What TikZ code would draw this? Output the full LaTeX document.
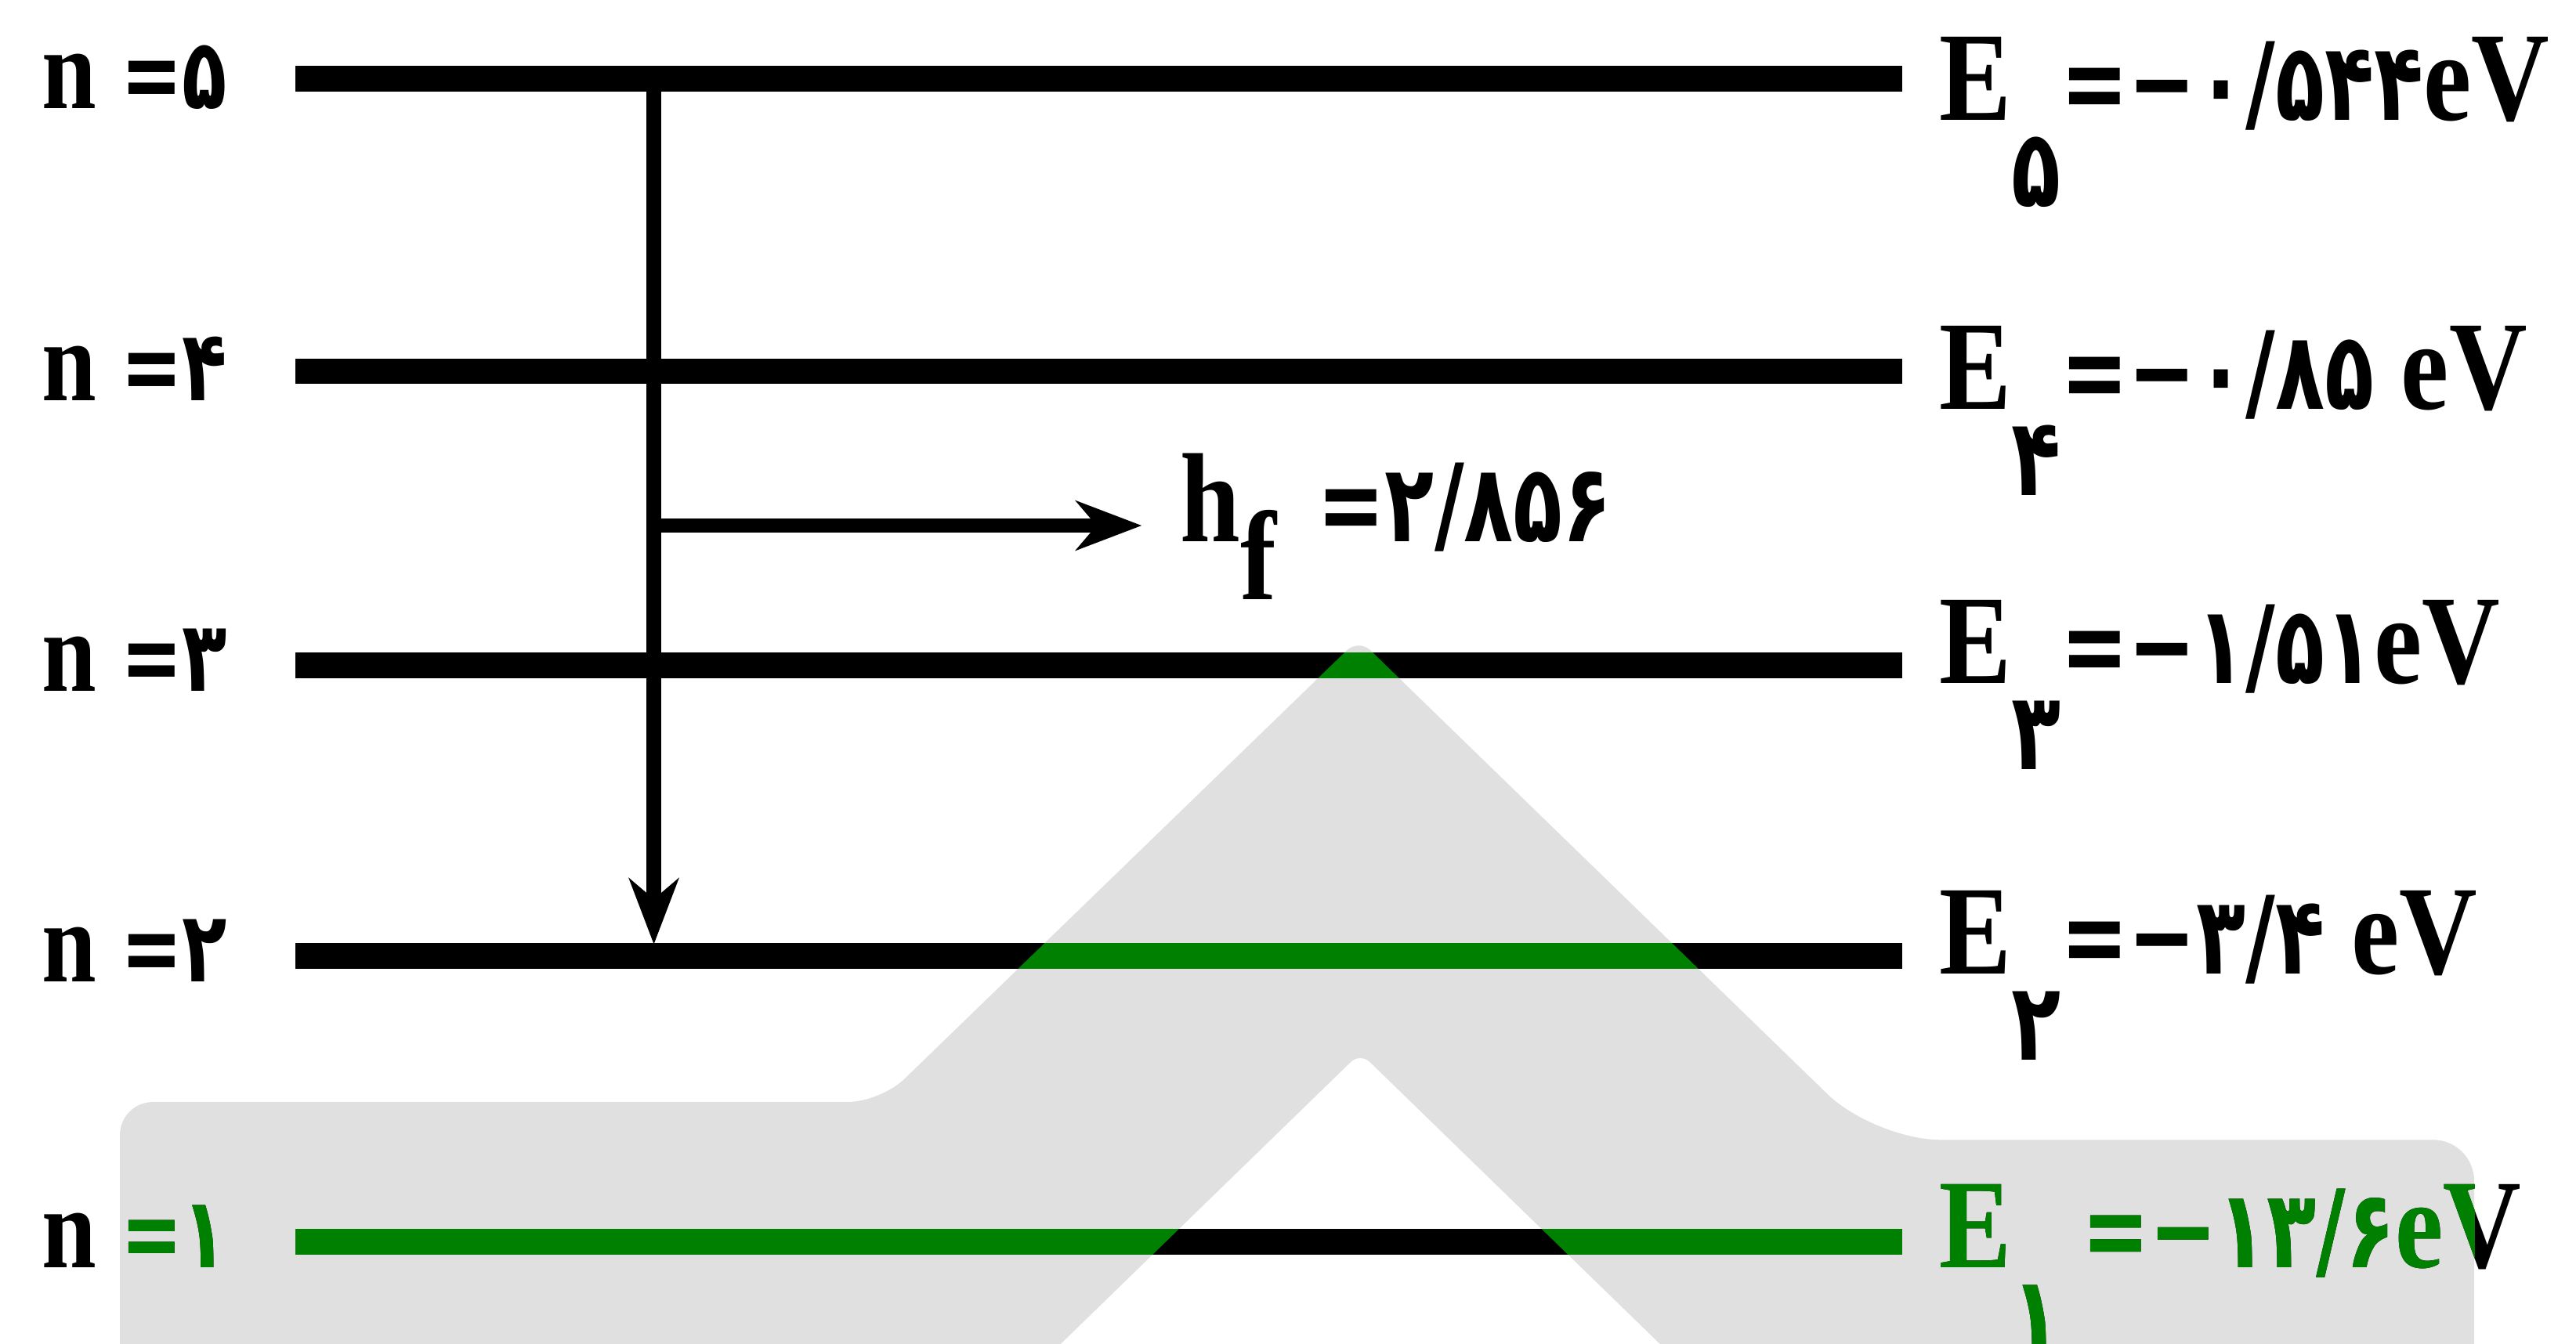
\documentclass[tikz,border=0pt]{standalone}
\usepackage{fontspec}
\setmainfont{Liberation Serif}[FakeStretch=0.85]
\newfontfamily\fa{DejaVu Sans}[FakeStretch=0.75,Scale=0.85]
\usetikzlibrary{arrows.meta}
\definecolor{wmgrey}{RGB}{224,224,224}
\definecolor{wmgreen}{RGB}{0,128,0}
% the grey band, in pixel units of the picture
\newcommand{\wmpath}{(73,850) [rounded corners=4mm] -- (73,671) -- (536,671) [rounded corners=2mm] -- (827,389) [rounded corners=8mm] -- (1141,694) [rounded corners=5mm] -- (1506,694) [sharp corners] -- (1506,850) -- (1043,850) [rounded corners=1.6mm] -- (828,641) [sharp corners] -- (613,850) -- cycle}
\newcommand{\labone}{n {\fa\bfseries =۱}}
\newcommand{\eone}{E\raisebox{-10.5mm}{\fa\bfseries ۱}\,{\fa\bfseries =−۱۳/۶}eV}

\begin{document}
\begin{tikzpicture}[x=0.2mm,y=-0.2mm,level/.style={line width=3.1mm},jump/.style={line width=1.8mm,-{Stealth[length=8mm,width=6mm,inset=2.5mm]}},nlab/.style={anchor=base west,inner sep=0pt,font=\fontsize{40}{44}\selectfont\bfseries},elab/.style={anchor=base west,inner sep=0pt,font=\fontsize{44}{48}\selectfont\bfseries}]
\useasboundingbox (0,0) rectangle (1568,818);
\fill[wmgrey] \wmpath;
% levels
\coordinate (L5w) at (180,48);
\coordinate (L5e) at (1158,48);
\coordinate (L4w) at (180,226);
\coordinate (L4e) at (1158,226);
\coordinate (L3w) at (180,405);
\coordinate (L3e) at (1158,405);
\coordinate (L2w) at (180,582);
\coordinate (L2e) at (1158,582);
\coordinate (L1w) at (180,756);
\coordinate (L1e) at (1158,756);
\draw[level] (L5w) -- (L5e);
\draw[level] (L4w) -- (L4e);
\draw[level] (L3w) -- (L3e);
\draw[level] (L2w) -- (L2e);
\draw[level] (L1w) -- (L1e);
% quantum numbers
\node[nlab] (n5) at (25,66) {n {\fa\bfseries =۵}};
\node[nlab] (n4) at (25,244) {n {\fa\bfseries =۴}};
\node[nlab] (n3) at (25,421) {n {\fa\bfseries =۳}};
\node[nlab] (n2) at (25,598) {n {\fa\bfseries =۲}};
\node[nlab] (n1) at (25,772) {\labone};
% energies
\node[elab] (e5) at (1180,73) {E\raisebox{-10.5mm}{\fa\bfseries ۵}{\fa\bfseries =−۰/۵۴۴}eV};
\node[elab] (e4) at (1180,249) {E\raisebox{-10.5mm}{\fa\bfseries ۴}{\fa\bfseries =−۰/۸۵} eV};
\node[elab] (e3) at (1180,416) {E\raisebox{-10.5mm}{\fa\bfseries ۳}{\fa\bfseries =−۱/۵۱}eV};
\node[elab] (e2) at (1180,593) {E\raisebox{-10.5mm}{\fa\bfseries ۲}{\fa\bfseries =−۳/۴} eV};
\node[elab] (e1) at (1180,772) {\eone};
% transition 5 -> 2 and the photon
\coordinate (top) at (398,48);
\coordinate (hit) at (398,575);
\coordinate (fork) at (398,320);
\coordinate (out) at (695,320);
\draw[jump] (top) -- (hit);
\draw[jump] (fork) -- (out);
\node[elab] (hf) at (718,330) {h\raisebox{-7mm}{f}\hspace{5mm}{\fa =۲/۸۵۶}};
% green where the band covers the drawing
\begin{scope}
\clip \wmpath;
\draw[level,wmgreen] (L3w) -- (L3e);
\draw[level,wmgreen] (L2w) -- (L2e);
\draw[level,wmgreen] (L1w) -- (L1e);
\node[nlab,text=wmgreen] at (n1.base west) {\labone};
\node[elab,text=wmgreen] at (e1.base west) {\eone};
\end{scope}
\end{tikzpicture}
\end{document}
